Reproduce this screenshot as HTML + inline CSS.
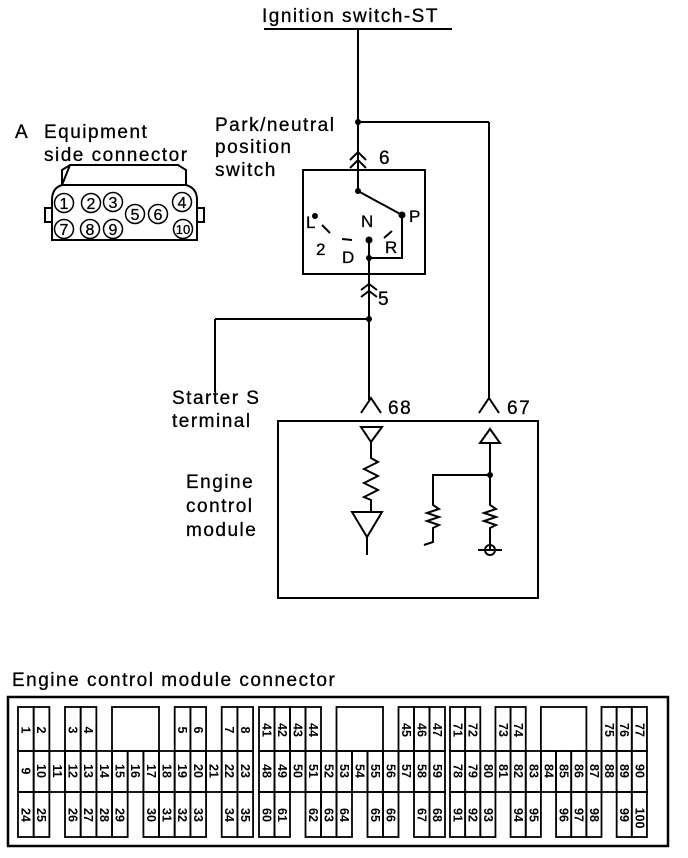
<!DOCTYPE html>
<html><head><meta charset="utf-8"><style>
html,body{margin:0;padding:0;background:#fff}
svg{display:block}
text{font-family:"Liberation Sans",sans-serif;fill:#000}
.lb{font-size:19px;letter-spacing:1.5px;stroke:#000;stroke-width:0.3}
</style></head><body>
<svg width="688" height="858" viewBox="0 0 688 858" xmlns="http://www.w3.org/2000/svg">
<g stroke="#000" fill="none" stroke-width="2">
<line x1="264" y1="29" x2="452" y2="29"/>
<line x1="358" y1="29" x2="358" y2="170"/>
<line x1="358" y1="122" x2="489" y2="122"/>
<line x1="489" y1="122" x2="489" y2="400"/>
<polyline points="350,160 358,152 366,160"/>
<polyline points="350,168 358,160 366,168"/>
<rect x="303" y="170" width="122" height="104"/>
<polyline points="358,170 358,191 402,215 402,258 369,258"/>
<line x1="369" y1="240" x2="369" y2="400"/>
<polyline points="361,290 369,284 377,290"/>
<polyline points="361,297 369,291 377,297"/>
<line x1="369" y1="319" x2="215" y2="319"/>
<line x1="215" y1="319" x2="215" y2="392"/>
<line x1="322" y1="225" x2="330" y2="233"/>
<line x1="342" y1="239" x2="352" y2="240"/>
<line x1="384" y1="238" x2="392" y2="231"/>
<polyline points="361,413 371,398 381,413"/>
<polyline points="479,413 489,398 499,413"/>
<rect x="278" y="421" width="260" height="177"/>
<polygon points="361,427 382,427 371,442"/>
<polyline points="371,442 371,458 378,462 364,469 378,476 364,483 378,490 364,497 371,500 371,512"/>
<polygon points="352,512 382,512 367,537"/>
<line x1="367" y1="537" x2="367" y2="555"/>
<polygon points="480,443 500,443 490,429"/>
<polyline points="490,443 490,505 496,509 484,513 496,517 484,521 496,525 490,528 490,550"/>
<polyline points="490,475 433,475 433,505 439,509 427,513 439,517 427,521 439,525 433,528 433,542 424,545"/>
<circle cx="490" cy="550" r="5"/>
<line x1="478" y1="550" x2="502" y2="550"/>
<path d="M52,240 L52,200 Q52,188 62,185 L62,170 L70,165 L178,165 L186,170 L186,185 Q197,188 197,200 L197,240 Z"/>
<line x1="62" y1="185" x2="186" y2="185"/>
<line x1="70" y1="165" x2="62" y2="185"/>
<rect x="45" y="208" width="7" height="14"/>
<rect x="197" y="208" width="7" height="14"/>
<g stroke-width="1.5">
<circle cx="64" cy="203" r="9.5"/><circle cx="91" cy="203" r="9.5"/><circle cx="113" cy="202" r="9.5"/>
<circle cx="135" cy="214" r="9.5"/><circle cx="158" cy="214" r="9.5"/><circle cx="182" cy="202" r="9.5"/>
<circle cx="64" cy="229" r="9.5"/><circle cx="90" cy="229" r="9.5"/><circle cx="113" cy="229" r="9.5"/><circle cx="183" cy="229" r="9.5"/>
</g>
<rect x="8" y="697" width="660" height="149" stroke-width="2.5"/>
</g>
<g fill="#000">
<circle cx="358" cy="122" r="3"/><circle cx="358" cy="191" r="3"/><circle cx="402" cy="215" r="3.5"/>
<circle cx="369" cy="258" r="3"/><circle cx="369" cy="240" r="3.5"/><circle cx="315" cy="216" r="3"/>
<circle cx="369" cy="319" r="3"/><circle cx="490" cy="475" r="3"/>
</g>
<g class="lb">
<text x="262" y="22">Ignition switch-ST</text>
<text x="215" y="131">Park/neutral</text>
<text x="215" y="153">position</text>
<text x="215" y="176">switch</text>
<text x="15" y="138">A</text>
<text x="44" y="138">Equipment</text>
<text x="44" y="161">side connector</text>
<text x="379" y="164">6</text>
<text x="378" y="305">5</text>
<text x="388" y="414">68</text>
<text x="507" y="414">67</text>
<text x="172" y="404">Starter S</text>
<text x="172" y="427">terminal</text>
<text x="186" y="488">Engine</text>
<text x="186" y="512">control</text>
<text x="186" y="536">module</text>
<text x="12" y="686">Engine control module connector</text>
<text x="306" y="228" font-size="17">L</text>
<text x="316" y="255" font-size="17">2</text>
<text x="342" y="263" font-size="17">D</text>
<text x="361" y="227" font-size="17">N</text>
<text x="385" y="253" font-size="17">R</text>
<text x="409" y="222" font-size="17">P</text>
</g>
<g font-size="16" text-anchor="middle" stroke="#000" stroke-width="0.3">
<text x="64" y="209">1</text><text x="91" y="209">2</text><text x="113" y="208">3</text>
<text x="135" y="220">5</text><text x="158" y="220">6</text><text x="182" y="208">4</text>
<text x="64" y="235">7</text><text x="90" y="235">8</text><text x="113" y="235">9</text><text x="183" y="234" font-size="13">10</text>
</g>

<g stroke="#000" stroke-width="1.8" fill="none">
<rect x="18" y="707" width="15.67" height="44"/><rect x="33.7" y="707" width="15.67" height="44"/>
<rect x="65" y="707" width="15.67" height="44"/><rect x="80.7" y="707" width="15.67" height="44"/>
<rect x="112" y="707" width="47" height="44"/>
<rect x="174.7" y="707" width="15.67" height="44"/><rect x="190.4" y="707" width="15.67" height="44"/>
<rect x="221.7" y="707" width="15.67" height="44"/><rect x="237.4" y="707" width="15.67" height="44"/>
<rect x="18" y="751" width="15.67" height="41"/><rect x="33.7" y="751" width="15.67" height="41"/><rect x="49.3" y="751" width="15.67" height="41"/><rect x="65" y="751" width="15.67" height="41"/><rect x="80.7" y="751" width="15.67" height="41"/><rect x="96.4" y="751" width="15.67" height="41"/><rect x="112" y="751" width="15.67" height="41"/><rect x="127.7" y="751" width="15.67" height="41"/><rect x="143.4" y="751" width="15.67" height="41"/><rect x="159" y="751" width="15.67" height="41"/><rect x="174.7" y="751" width="15.67" height="41"/><rect x="190.4" y="751" width="15.67" height="41"/><rect x="206" y="751" width="15.67" height="41"/><rect x="221.7" y="751" width="15.67" height="41"/><rect x="237.4" y="751" width="15.67" height="41"/>
<rect x="18" y="792" width="15.67" height="45"/><rect x="33.7" y="792" width="15.67" height="45"/>
<rect x="65" y="792" width="15.67" height="45"/><rect x="80.7" y="792" width="15.67" height="45"/><rect x="96.4" y="792" width="15.67" height="45"/><rect x="112" y="792" width="15.67" height="45"/>
<rect x="143.4" y="792" width="15.67" height="45"/><rect x="159" y="792" width="15.67" height="45"/><rect x="174.7" y="792" width="15.67" height="45"/><rect x="190.4" y="792" width="15.67" height="45"/>
<rect x="221.7" y="792" width="15.67" height="45"/><rect x="237.4" y="792" width="15.67" height="45"/>
<rect x="259" y="707" width="15.5" height="44"/><rect x="274.5" y="707" width="15.5" height="44"/><rect x="290" y="707" width="15.5" height="44"/><rect x="305.5" y="707" width="15.5" height="44"/>
<rect x="336.5" y="707" width="46.5" height="44"/>
<rect x="398.5" y="707" width="15.5" height="44"/><rect x="414" y="707" width="15.5" height="44"/><rect x="429.5" y="707" width="15.5" height="44"/>
<rect x="259" y="751" width="15.5" height="41"/><rect x="274.5" y="751" width="15.5" height="41"/><rect x="290" y="751" width="15.5" height="41"/><rect x="305.5" y="751" width="15.5" height="41"/><rect x="321" y="751" width="15.5" height="41"/><rect x="336.5" y="751" width="15.5" height="41"/><rect x="352" y="751" width="15.5" height="41"/><rect x="367.5" y="751" width="15.5" height="41"/><rect x="383" y="751" width="15.5" height="41"/><rect x="398.5" y="751" width="15.5" height="41"/><rect x="414" y="751" width="15.5" height="41"/><rect x="429.5" y="751" width="15.5" height="41"/>
<rect x="259" y="792" width="15.5" height="45"/><rect x="274.5" y="792" width="15.5" height="45"/>
<rect x="305.5" y="792" width="15.5" height="45"/><rect x="321" y="792" width="15.5" height="45"/><rect x="336.5" y="792" width="15.5" height="45"/>
<rect x="367.5" y="792" width="15.5" height="45"/><rect x="383" y="792" width="15.5" height="45"/>
<rect x="414" y="792" width="15.5" height="45"/><rect x="429.5" y="792" width="15.5" height="45"/>
<rect x="450" y="707" width="15.15" height="44"/><rect x="465.15" y="707" width="15.15" height="44"/>
<rect x="495.45" y="707" width="15.15" height="44"/><rect x="510.6" y="707" width="15.15" height="44"/>
<rect x="540.9" y="707" width="45.5" height="44"/>
<rect x="601.5" y="707" width="15.15" height="44"/><rect x="616.65" y="707" width="15.15" height="44"/><rect x="631.8" y="707" width="15.15" height="44"/>
<rect x="450" y="751" width="15.15" height="41"/><rect x="465.15" y="751" width="15.15" height="41"/><rect x="480.3" y="751" width="15.15" height="41"/><rect x="495.45" y="751" width="15.15" height="41"/><rect x="510.6" y="751" width="15.15" height="41"/><rect x="525.75" y="751" width="15.15" height="41"/><rect x="540.9" y="751" width="15.15" height="41"/><rect x="556.05" y="751" width="15.15" height="41"/><rect x="571.2" y="751" width="15.15" height="41"/><rect x="586.35" y="751" width="15.15" height="41"/><rect x="601.5" y="751" width="15.15" height="41"/><rect x="616.65" y="751" width="15.15" height="41"/><rect x="631.8" y="751" width="15.15" height="41"/>
<rect x="450" y="792" width="15.15" height="45"/><rect x="465.15" y="792" width="15.15" height="45"/><rect x="480.3" y="792" width="15.15" height="45"/>
<rect x="510.6" y="792" width="15.15" height="45"/><rect x="525.75" y="792" width="15.15" height="45"/>
<rect x="556.05" y="792" width="15.15" height="45"/><rect x="571.2" y="792" width="15.15" height="45"/><rect x="586.35" y="792" width="15.15" height="45"/>
<rect x="616.65" y="792" width="15.15" height="45"/><rect x="631.8" y="792" width="15.15" height="45"/>
</g>

<g font-size="12.5" font-weight="bold" text-anchor="middle">
<text transform="translate(21.5,730) rotate(90)">1</text>
<text transform="translate(37.2,730) rotate(90)">2</text>
<text transform="translate(68.5,730) rotate(90)">3</text>
<text transform="translate(84.2,730) rotate(90)">4</text>
<text transform="translate(178.2,730) rotate(90)">5</text>
<text transform="translate(193.9,730) rotate(90)">6</text>
<text transform="translate(225.2,730) rotate(90)">7</text>
<text transform="translate(240.9,730) rotate(90)">8</text>
<text transform="translate(21.5,771) rotate(90)">9</text>
<text transform="translate(37.2,771) rotate(90)">10</text>
<text transform="translate(52.8,771) rotate(90)">11</text>
<text transform="translate(68.5,771) rotate(90)">12</text>
<text transform="translate(84.2,771) rotate(90)">13</text>
<text transform="translate(99.9,771) rotate(90)">14</text>
<text transform="translate(115.5,771) rotate(90)">15</text>
<text transform="translate(131.2,771) rotate(90)">16</text>
<text transform="translate(146.9,771) rotate(90)">17</text>
<text transform="translate(162.5,771) rotate(90)">18</text>
<text transform="translate(178.2,771) rotate(90)">19</text>
<text transform="translate(193.9,771) rotate(90)">20</text>
<text transform="translate(209.5,771) rotate(90)">21</text>
<text transform="translate(225.2,771) rotate(90)">22</text>
<text transform="translate(240.9,771) rotate(90)">23</text>
<text transform="translate(21.5,815) rotate(90)">24</text>
<text transform="translate(37.2,815) rotate(90)">25</text>
<text transform="translate(68.5,815) rotate(90)">26</text>
<text transform="translate(84.2,815) rotate(90)">27</text>
<text transform="translate(99.9,815) rotate(90)">28</text>
<text transform="translate(115.5,815) rotate(90)">29</text>
<text transform="translate(146.9,815) rotate(90)">30</text>
<text transform="translate(162.5,815) rotate(90)">31</text>
<text transform="translate(178.2,815) rotate(90)">32</text>
<text transform="translate(193.9,815) rotate(90)">33</text>
<text transform="translate(225.2,815) rotate(90)">34</text>
<text transform="translate(240.9,815) rotate(90)">35</text>
<text transform="translate(262.5,730) rotate(90)">41</text>
<text transform="translate(278,730) rotate(90)">42</text>
<text transform="translate(293.5,730) rotate(90)">43</text>
<text transform="translate(309,730) rotate(90)">44</text>
<text transform="translate(402,730) rotate(90)">45</text>
<text transform="translate(417.5,730) rotate(90)">46</text>
<text transform="translate(433,730) rotate(90)">47</text>
<text transform="translate(262.5,771) rotate(90)">48</text>
<text transform="translate(278,771) rotate(90)">49</text>
<text transform="translate(293.5,771) rotate(90)">50</text>
<text transform="translate(309,771) rotate(90)">51</text>
<text transform="translate(324.5,771) rotate(90)">52</text>
<text transform="translate(340,771) rotate(90)">53</text>
<text transform="translate(355.5,771) rotate(90)">54</text>
<text transform="translate(371,771) rotate(90)">55</text>
<text transform="translate(386.5,771) rotate(90)">56</text>
<text transform="translate(402,771) rotate(90)">57</text>
<text transform="translate(417.5,771) rotate(90)">58</text>
<text transform="translate(433,771) rotate(90)">59</text>
<text transform="translate(262.5,815) rotate(90)">60</text>
<text transform="translate(278,815) rotate(90)">61</text>
<text transform="translate(309,815) rotate(90)">62</text>
<text transform="translate(324.5,815) rotate(90)">63</text>
<text transform="translate(340,815) rotate(90)">64</text>
<text transform="translate(371,815) rotate(90)">65</text>
<text transform="translate(386.5,815) rotate(90)">66</text>
<text transform="translate(417.5,815) rotate(90)">67</text>
<text transform="translate(433,815) rotate(90)">68</text>
<text transform="translate(453.5,730) rotate(90)">71</text>
<text transform="translate(468.7,730) rotate(90)">72</text>
<text transform="translate(499,730) rotate(90)">73</text>
<text transform="translate(514.1,730) rotate(90)">74</text>
<text transform="translate(605,730) rotate(90)">75</text>
<text transform="translate(620.2,730) rotate(90)">76</text>
<text transform="translate(635.3,730) rotate(90)">77</text>
<text transform="translate(453.5,771) rotate(90)">78</text>
<text transform="translate(468.7,771) rotate(90)">79</text>
<text transform="translate(483.8,771) rotate(90)">80</text>
<text transform="translate(499,771) rotate(90)">81</text>
<text transform="translate(514.1,771) rotate(90)">82</text>
<text transform="translate(529.3,771) rotate(90)">83</text>
<text transform="translate(544.4,771) rotate(90)">84</text>
<text transform="translate(559.5,771) rotate(90)">85</text>
<text transform="translate(574.7,771) rotate(90)">86</text>
<text transform="translate(589.9,771) rotate(90)">87</text>
<text transform="translate(605,771) rotate(90)">88</text>
<text transform="translate(620.2,771) rotate(90)">89</text>
<text transform="translate(635.3,771) rotate(90)">90</text>
<text transform="translate(453.5,815) rotate(90)">91</text>
<text transform="translate(468.7,815) rotate(90)">92</text>
<text transform="translate(483.8,815) rotate(90)">93</text>
<text transform="translate(514.1,815) rotate(90)">94</text>
<text transform="translate(529.3,815) rotate(90)">95</text>
<text transform="translate(559.5,815) rotate(90)">96</text>
<text transform="translate(574.7,815) rotate(90)">97</text>
<text transform="translate(589.9,815) rotate(90)">98</text>
<text transform="translate(620.2,815) rotate(90)">99</text>
<text transform="translate(635.3,818) rotate(90)">100</text>
</g>
</svg>
</body></html>
